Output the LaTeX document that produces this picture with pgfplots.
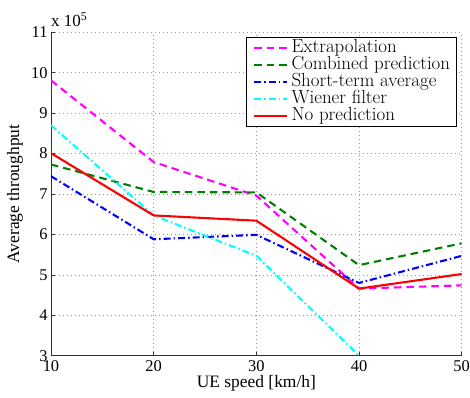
\documentclass[border=0pt]{standalone}
\usepackage{fontspec}
\newfontfamily\tms{Liberation Serif}
\usepackage{pgfplots}
\pgfplotsset{compat=1.18}
\definecolor{mgreen}{rgb}{0,0.5,0}
\definecolor{mmag}{rgb}{1,0,1}
\definecolor{mcyan}{rgb}{0,1,1}
\definecolor{mblue}{rgb}{0,0,1}
\definecolor{mred}{rgb}{1,0,0}
\begin{document}
\begin{tikzpicture}
\begin{axis}[
  scale only axis,
  width=410.7bp, height=323.4bp,
  xmin=10, xmax=50, ymin=3, ymax=11,
  xtick={10,20,30,40,50}, ytick={3,4,5,6,7,8,9,10,11},
  axis x line*=bottom, axis y line*=left,
  axis line style={line width=0.8bp, black!80, -},
  tick align=inside, major tick length=4bp,
  tick style={black!80, line width=0.6bp},
  grid=major,
  major grid style={line width=0.6bp, gray!80, dash pattern=on 1bp off 3bp},
  /pgf/number format/assume math mode=true,
  ticklabel style={font=\tms\fontsize{16.5}{19}\selectfont},
  yticklabel style={xshift=0bp},
  xticklabel style={yshift=-1bp},
  xlabel={UE speed [km/h]},
  ylabel={Average throughput},
  label style={font=\tms\fontsize{17.5}{20}\selectfont},
  xlabel style={at={(axis description cs:0.5,0)}, anchor=center, yshift=-28bp},
  ylabel style={at={(axis description cs:0,0.5)}, anchor=center, yshift=36bp},
  legend cell align=left,
  legend style={at={(rel axis cs:1,1)}, anchor=north east, xshift=-4.7bp, yshift=-5bp,
    draw=black, line width=0.8bp, inner xsep=6.5bp, inner ysep=1.5bp,
    font=\fontsize{19}{21}\selectfont,
    nodes={inner sep=0pt, text height=13bp, text depth=4.1bp},
    /tikz/every odd column/.append style={column sep=3.5bp}},
  legend image code/.code={\draw[#1] (0bp,0bp) -- (33bp,0bp);},
  every axis plot/.append style={line width=2.1bp},
  clip=true,
]
\addplot[mmag, dash pattern=on 7.5bp off 5bp] coordinates {(10,9.81) (20,7.79) (30,6.96) (40,4.66) (50,4.74)};
\addlegendentry{Extrapolation}
\addplot[mgreen, dash pattern=on 7.5bp off 5bp] coordinates {(10,7.73) (20,7.05) (30,7.04) (40,5.24) (50,5.78)};
\addlegendentry{Combined prediction}
\addplot[mblue, dash pattern=on 7bp off 3bp on 1.5bp off 3bp] coordinates {(10,7.44) (20,5.88) (30,5.99) (40,4.80) (50,5.47)};
\addlegendentry{Short-term average}
\addplot[mcyan, dash pattern=on 7bp off 3bp on 1.5bp off 3bp] coordinates {(10,8.70) (20,6.47) (30,5.47) (40,3.00)};
\addlegendentry{Wiener filter}
\addplot[mred, solid] coordinates {(10,8.01) (20,6.47) (30,6.34) (40,4.66) (50,5.02)};
\addlegendentry{No prediction}
\coordinate (sw) at (rel axis cs:0,0);
\coordinate (ne) at (rel axis cs:1,1);
\coordinate (nw) at (rel axis cs:0,1);
\end{axis}
\node[anchor=base west, inner sep=0pt, font=\tms\fontsize{17}{20}\selectfont] at ([yshift=5.6bp]nw) {x 10\textsuperscript{5}};
\pgfresetboundingbox
\path[use as bounding box] ([xshift=-51bp,yshift=-42.3bp]sw) rectangle ([xshift=8.3bp,yshift=32.3bp]ne);
\end{tikzpicture}
\end{document}
